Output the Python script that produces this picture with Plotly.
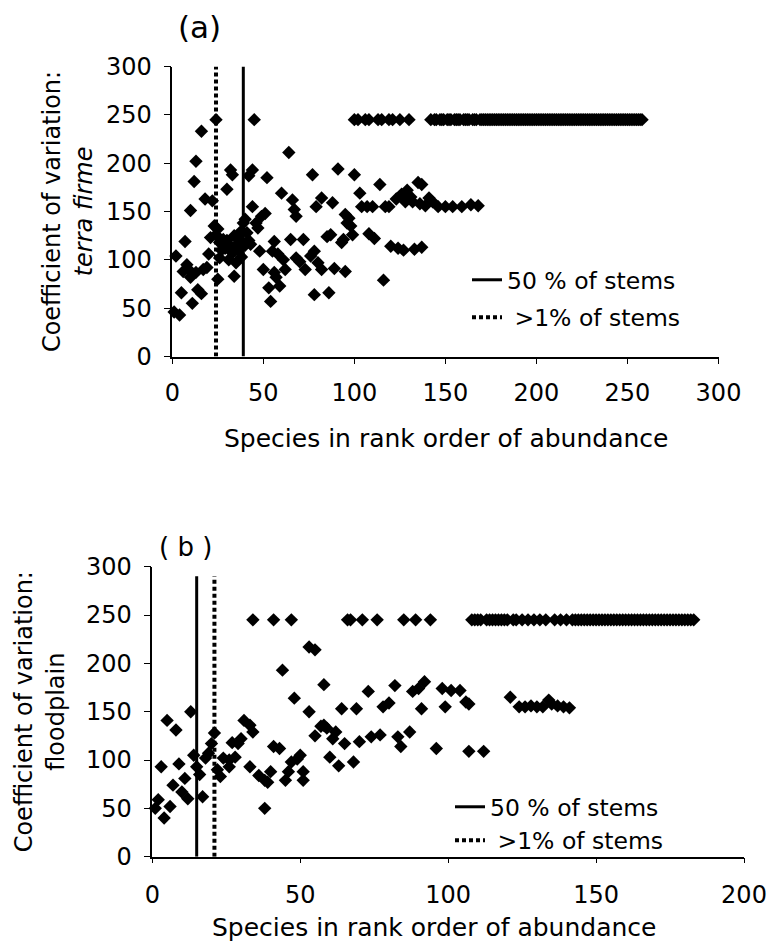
import plotly.graph_objects as go

# ---------------- Panel (a): terra firme ----------------
a_rank = [1, 2, 4, 5, 6, 7, 8, 9, 10, 10, 11, 12, 13, 13, 14, 16, 16, 17, 18, 19, 20, 21, 22, 23, 24, 24,
          25, 25, 26, 26, 27, 28, 29, 30, 30, 31, 31, 32, 33, 33, 34, 34, 35, 35, 36, 37, 38, 38, 39, 40,
          40, 41, 42, 42, 43, 44, 44, 45, 46, 47, 48, 49, 50, 51, 52, 53, 54, 55, 56, 56, 57, 58, 59, 60,
          61, 62, 64, 65, 66, 67, 68, 68, 70, 72, 73, 76, 77, 78, 78, 79, 80, 82, 82, 86, 85, 87, 88, 89,
          91, 93, 94, 95, 95, 96, 97, 98, 99, 100, 100, 102, 103, 104, 106, 107, 108, 108, 110, 111, 113,
          114, 115, 116, 117, 119, 119, 120, 121, 123, 124, 125, 126, 127, 128, 129, 130, 131, 132, 133,
          135, 136, 137, 137, 139, 141, 143, 146, 150, 154, 159, 164, 168]
a_cv = [46, 104, 43, 66, 88, 119, 95, 90, 151, 82, 55, 181, 202, 87, 69, 233, 65, 90, 163, 92, 106, 123, 161, 135, 126, 245,
        80, 132, 102, 118, 110, 121, 112, 173, 120, 116, 100, 193, 188, 107, 83, 125, 97, 115, 110, 121, 103, 130, 138, 142,
        115, 128, 187, 120, 116, 193, 155, 245, 138, 133, 109, 145, 90, 148, 185, 71, 57, 109, 119, 87, 82, 106, 73, 169,
        100, 90, 211, 121, 162, 152, 145, 102, 98, 121, 90, 104, 188, 109, 64, 155, 97, 164, 90, 66, 124, 126, 159, 91,
        194, 118, 121, 88, 147, 138, 143, 135, 126, 245, 188, 245, 169, 155, 245, 155, 127, 245, 155, 122, 245,
        178, 245, 79, 155, 245, 155, 114, 245, 163, 112, 245, 168, 110, 160, 172, 245, 165, 160, 111,
        180, 158, 178, 113, 156, 164, 160, 155, 155, 155, 155, 157, 156]
# unbroken run of species at the maximum CV (245), ranks 142-258, read from the plateau
a_plateau_first, a_plateau_last, a_plateau_cv = 142, 258, 245
a_50pct_rank = 39     # 50 % of stems
a_1pct_rank = 24      # >1 % of stems
a_line_top = 300

# ---------------- Panel (b): floodplain ----------------
b_rank = [1, 2, 3, 4, 5, 6, 7, 8, 9, 10, 11, 12, 13, 14, 15, 16, 17, 18, 19, 20, 21, 22, 23, 24, 26, 26, 27,
          28, 29, 30, 31, 33, 33, 34, 34, 36, 38, 38, 39, 40, 41, 41, 43, 44, 45, 46, 47, 47, 48, 49, 50, 51,
          51, 53, 53, 55, 55, 57, 58, 58, 59, 60, 61, 62, 63, 64, 65, 66, 67, 68, 69, 70, 71, 73, 74, 76, 77,
          78, 80, 82, 83, 84, 85, 87, 88, 89, 90, 91, 92, 94, 96, 98, 99, 101, 104, 106, 107, 107, 112, 121,
          124, 126, 128, 130, 132, 134, 135, 137, 139, 141]
b_cv = [50, 59, 93, 40, 141, 52, 74, 131, 96, 67, 81, 60, 150, 105, 93, 85, 62, 102, 107, 117, 128, 90, 83, 102, 100, 93, 118,
        103, 117, 122, 141, 136, 93, 129, 245, 84, 79, 50, 77, 88, 114, 245, 112, 193, 79, 88, 245, 98, 164, 101, 105, 88,
        79, 150, 217, 214, 125, 135, 178, 136, 133, 103, 122, 129, 94, 153, 117, 245, 245, 98, 153, 119, 245, 171, 124, 245, 126,
        155, 159, 177, 124, 114, 245, 129, 171, 245, 174, 153, 181, 245, 112, 174, 155, 172, 172, 160, 158, 109, 109, 165,
        155, 155, 156, 155, 155, 162, 158, 156, 155, 154]
b_plateau_first, b_plateau_last, b_plateau_cv = 108, 183, 245
b_50pct_rank = 15
b_1pct_rank = 21
b_line_top = 290

x_ticks_a = [0, 50, 100, 150, 200, 250, 300]
x_ticks_b = [0, 50, 100, 150, 200]
y_ticks = [0, 50, 100, 150, 200, 250, 300]


def with_plateau(ranks, cvs, first, last, cv):
    used = set(ranks)
    xs, ys = list(ranks), list(cvs)
    for r in range(first, last + 1):
        if r not in used:
            xs.append(r)
            ys.append(cv)
    return xs, ys


ax, ay = with_plateau(a_rank, a_cv, a_plateau_first, a_plateau_last, a_plateau_cv)
bx, by = with_plateau(b_rank, b_cv, b_plateau_first, b_plateau_last, b_plateau_cv)

FONT = "DejaVu Sans"
marker = dict(symbol="diamond", size=10.3, color="black", line=dict(width=0))

fig = go.Figure()
fig.add_trace(go.Scatter(x=ax, y=ay, mode="markers", marker=marker, showlegend=False,
                         xaxis="x", yaxis="y", cliponaxis=False))
fig.add_trace(go.Scatter(x=[a_50pct_rank, a_50pct_rank], y=[0, a_line_top], mode="lines",
                         line=dict(color="black", width=3), name="50 % of stems",
                         xaxis="x", yaxis="y", legend="legend", legendgroup="a1"))
fig.add_trace(go.Scatter(x=[a_1pct_rank, a_1pct_rank], y=[0, a_line_top], mode="lines",
                         line=dict(color="black", width=4, dash="4px,3px"), name=" >1% of stems",
                         xaxis="x", yaxis="y", legend="legend", legendgroup="a2"))

fig.add_trace(go.Scatter(x=bx, y=by, mode="markers", marker=marker, showlegend=False,
                         xaxis="x2", yaxis="y2", cliponaxis=False))
fig.add_trace(go.Scatter(x=[b_50pct_rank, b_50pct_rank], y=[0, b_line_top], mode="lines",
                         line=dict(color="black", width=3), name="50 % of stems",
                         xaxis="x2", yaxis="y2", legend="legend2", legendgroup="b1"))
fig.add_trace(go.Scatter(x=[b_1pct_rank, b_1pct_rank], y=[0, b_line_top], mode="lines",
                         line=dict(color="black", width=4, dash="4px,3px"), name=" >1% of stems",
                         xaxis="x2", yaxis="y2", legend="legend2", legendgroup="b2"))

W, H = 768, 942

def px(x):
    return x / W

def py(y):
    return 1 - y / H

axis_common = dict(showline=True, linecolor="black", linewidth=1.5, ticks="outside",
                   tickcolor="black", tickwidth=1.2, showgrid=False, zeroline=False,
                   tickfont=dict(family=FONT, size=24, color="black"), automargin=False,
                   ticklabeloverflow="allow")

fig.update_layout(
    width=W, height=H, margin=dict(l=0, r=0, t=0, b=0),
    paper_bgcolor="white", plot_bgcolor="white",
    font=dict(family=FONT, color="black"),
    xaxis=dict(domain=[px(172.3), px(718.5)], range=[0, 300], tickvals=x_ticks_a, ticklen=6,
               anchor="y", ticklabelstandoff=8, **axis_common),
    yaxis=dict(domain=[py(356.5), py(66.5)], range=[0, 300], tickvals=y_ticks, ticklen=7, anchor="x",
               ticklabelstandoff=7,
               title=dict(text="Coefficient of variation:<br><i>terra firme</i>",
                          font=dict(family=FONT, size=24, color="black"), standoff=7),
               **axis_common),
    xaxis2=dict(domain=[px(152.3), px(744)], range=[0, 200], tickvals=x_ticks_b, ticklen=5,
                anchor="y2", ticklabelstandoff=11, **axis_common),
    yaxis2=dict(domain=[py(856.7), py(566.7)], range=[0, 300], tickvals=y_ticks, ticklen=7,
                anchor="x2", ticklabelstandoff=7,
                title=dict(text="Coefficient of variation:<br>floodplain",
                           font=dict(family=FONT, size=24, color="black"), standoff=15),
                **axis_common),
    legend=dict(x=px(467), y=py(258), xanchor="left", yanchor="top", bgcolor="rgba(0,0,0,0)",
                font=dict(family=FONT, size=23.5, color="black"), traceorder="grouped",
                tracegroupgap=4, itemwidth=30),
    legend2=dict(x=px(450), y=py(785), xanchor="left", yanchor="top", bgcolor="rgba(0,0,0,0)",
                 font=dict(family=FONT, size=23.5, color="black"), traceorder="grouped",
                 tracegroupgap=0, itemwidth=30),
    annotations=[
        dict(text="(a)", x=px(199), y=py(27), xref="paper", yref="paper", showarrow=False,
             font=dict(family=FONT, size=31, color="black"), xanchor="center", yanchor="middle"),
        dict(text="( b )", x=px(185), y=py(547), xref="paper", yref="paper", showarrow=False,
             font=dict(family=FONT, size=26, color="black"), xanchor="center", yanchor="middle"),
        dict(text="Species in rank order of abundance", x=px(446), y=py(438), xref="paper",
             yref="paper", showarrow=False, font=dict(family=FONT, size=25, color="black"),
             xanchor="center", yanchor="middle"),
        dict(text="Species in rank order of abundance", x=px(434), y=py(927), xref="paper",
             yref="paper", showarrow=False, font=dict(family=FONT, size=25, color="black"),
             xanchor="center", yanchor="middle"),
    ],
)

fig.write_html("out.html")
